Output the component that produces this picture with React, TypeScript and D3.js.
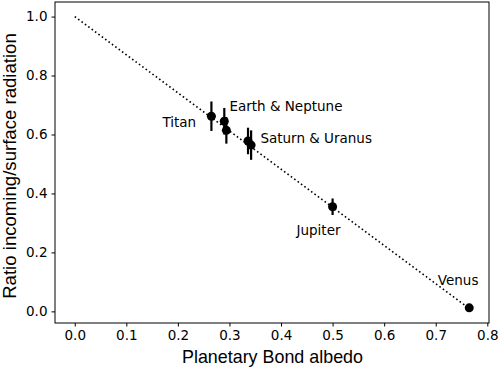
import React, { useEffect, useRef } from "react";
import * as d3 from "d3";

const planets = ["Titan", "Earth", "Neptune", "Saturn", "Uranus", "Jupiter", "Venus"];
const albedo = [0.265, 0.29, 0.294, 0.336, 0.342, 0.5, 0.765];
const ratio = [0.662, 0.645, 0.614, 0.578, 0.564, 0.355, 0.012];
const ratioErr = [0.05, 0.045, 0.045, 0.045, 0.05, 0.028, 0];

const fitX = [0, 0.765];
const fitY = [1.0, 0.01];

const labels = ["Titan", "Earth & Neptune", "Saturn & Uranus", "Jupiter", "Venus"];
const labelX = [0.17, 0.3, 0.36, 0.43, 0.704];
const labelY = [0.625, 0.68, 0.57, 0.26, 0.09];

const xTicks = [0, 0.1, 0.2, 0.3, 0.4, 0.5, 0.6, 0.7, 0.8];
const yTicks = [0, 0.2, 0.4, 0.6, 0.8, 1.0];

const W = 499;
const H = 371;
const M = { left: 55, right: 10, top: 2, bottom: 48 };

export default function App() {
  const svgRef = useRef<SVGSVGElement>(null);

  useEffect(() => {
    const svg = d3.select(svgRef.current);
    svg.selectAll("*").remove();
    const font = "DejaVu Sans, sans-serif";
    const labelFont = "Liberation Sans, Arial, sans-serif";

    const x = d3.scaleLinear().domain([-0.0383, 0.8033]).range([M.left, W - M.right]);
    const y = d3.scaleLinear().domain([-0.0394, 1.0494]).range([H - M.bottom, M.top]);

    // dotted fit line
    const line = d3
      .line<number>()
      .x((d) => x(fitX[d]))
      .y((d) => y(fitY[d]));
    svg
      .append("path")
      .attr("d", line([0, 1]))
      .attr("fill", "none")
      .attr("stroke", "black")
      .attr("stroke-width", 1.6)
      .attr("stroke-dasharray", "1.6,2.6");

    // error bars
    svg
      .selectAll(".err")
      .data(planets.map((_, i) => i).filter((i) => ratioErr[i] > 0))
      .join("line")
      .attr("x1", (i) => x(albedo[i]))
      .attr("x2", (i) => x(albedo[i]))
      .attr("y1", (i) => y(ratio[i] - ratioErr[i]))
      .attr("y2", (i) => y(ratio[i] + ratioErr[i]))
      .attr("stroke", "black")
      .attr("stroke-width", 2.2);

    svg
      .selectAll(".pt")
      .data(planets.map((_, i) => i))
      .join("circle")
      .attr("cx", (i) => x(albedo[i]))
      .attr("cy", (i) => y(ratio[i]))
      .attr("r", 4.5)
      .attr("fill", "black");

    svg
      .selectAll(".lbl")
      .data(labels)
      .join("text")
      .attr("x", (_, i) => x(labelX[i]))
      .attr("y", (_, i) => y(labelY[i]))
      .attr("font-family", font)
      .attr("font-size", 13.5)
      .text((d) => d);

    const xAxis = d3
      .axisBottom(x)
      .tickValues(xTicks)
      .tickFormat(d3.format(".1f"))
      .tickSize(3.5)
      .tickPadding(4);
    const gx = svg
      .append("g")
      .attr("transform", `translate(0,${H - M.bottom})`)
      .call(xAxis);
    gx.select(".domain").remove();

    const yAxis = d3
      .axisLeft(y)
      .tickValues(yTicks)
      .tickFormat(d3.format(".1f"))
      .tickSize(3.5)
      .tickPadding(4);
    const gy = svg.append("g").attr("transform", `translate(${M.left},0)`).call(yAxis);
    gy.select(".domain").remove();

    svg
      .selectAll(".tick text")
      .attr("font-family", font)
      .attr("font-size", 13.5)
      .attr("fill", "black");
    svg.selectAll(".tick line").attr("stroke", "black").attr("stroke-width", 1);

    svg
      .append("rect")
      .attr("x", M.left)
      .attr("y", M.top)
      .attr("width", W - M.left - M.right)
      .attr("height", H - M.top - M.bottom)
      .attr("fill", "none")
      .attr("stroke", "black")
      .attr("stroke-width", 1);

    svg
      .append("text")
      .attr("x", 272.5)
      .attr("y", 362.5)
      .attr("text-anchor", "middle")
      .attr("font-family", labelFont)
      .attr("font-size", 17.9)
      .text("Planetary Bond albedo");

    svg
      .append("text")
      .attr("transform", `translate(16,166) rotate(-90)`)
      .attr("text-anchor", "middle")
      .attr("font-family", labelFont)
      .attr("font-size", 18.6)
      .text("Ratio incoming/surface radiation");
  }, []);

  return (
    <svg
      ref={svgRef}
      width={W}
      height={H}
      style={{ position: "absolute", left: 0, top: 0, background: "white" }}
    />
  );
}
